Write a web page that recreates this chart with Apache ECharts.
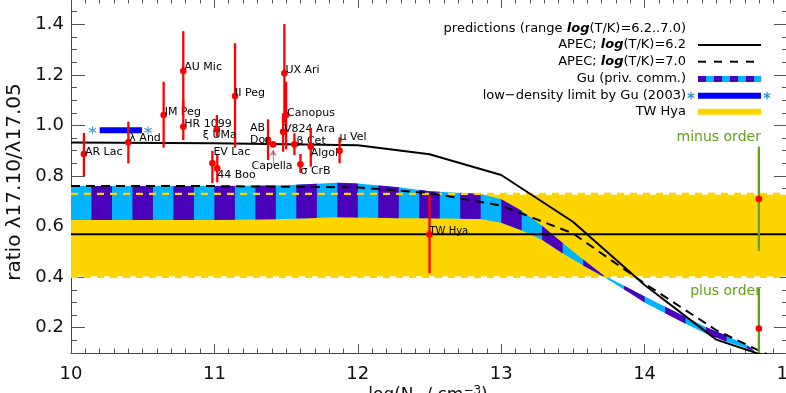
<!DOCTYPE html>
<html>
<head>
<meta charset="utf-8">
<script src="https://cdn.jsdelivr.net/npm/echarts@6.0.0/dist/echarts.min.js"></script>
<style>
  html, body { margin: 0; padding: 0; background: #fff; }
  #main { width: 786px; height: 393px; }
</style>
</head>
<body>
<div id="main"></div>
<script>
// stars: log Ne position, measured ratio and error range
const starNames = ['AR Lac', 'λ And', 'IM Peg', 'AU Mic', 'HR 1099', 'II Peg', 'UX Ari', 'Canopus', 'V824 Ara',
  'ξ UMa', 'EV Lac', '44 Boo', 'AB\nDor', 'Capella', 'β Cet', 'Algol', 'σ CrB', 'μ Vel'];
const starLogNe = [10.09, 10.40, 10.646, 10.783, 10.783, 11.144, 11.488, 11.50, 11.479,
  11.017, 10.986, 11.02, 11.374, 11.409, 11.558, 11.672, 11.60, 11.873];
const starRatio = [0.887, 0.933, 1.041, 1.215, 0.995, 1.116, 1.206, 1.041, 0.975,
  0.985, 0.850, 0.830, 0.942, 0.925, 0.925, 0.916, 0.846, 0.900];
const starLow = [0.800, 0.850, 0.912, 1.06, 0.942, 0.912, 1.01, 0.905, 0.896,
  0.955, 0.772, 0.775, 0.863, 0.918, 0.883, 0.837, 0.812, 0.850];
const starHigh = [0.970, 1.015, 1.173, 1.373, 1.10, 1.325, 1.401, 1.173, 1.048,
  1.041, 0.900, 0.883, 1.024, 0.932, 0.969, 0.990, 0.887, 0.953];

// Capella lower-limit arrow
const capellaArrow = [[11.409, 0.845], [11.409, 0.903]];

// TW Hya
const twHyaName = ['TW Hya'];
const twHyaLogNe = [12.5];
const twHyaRatio = [0.569];
const twHyaLow = [0.415];
const twHyaHigh = [0.722];
const twHyaLevel = 0.57;
const twHyaBand = [0.404, 0.726];
const twHyaEdges = [0.401, 0.729];

// minus / plus order for TW Hya
const orderNames = ['minus order', 'plus order'];
const orderLogNe = [14.797, 14.797];
const orderRatio = [0.709, 0.197];
const orderLow = [0.503, 0.09];
const orderHigh = [0.916, 0.356];

// APEC predictions
const apecLogNe = [10, 11, 12, 12.5, 13, 13.5, 14, 14.5, 15];
const apec62 = [0.932, 0.930, 0.922, 0.886, 0.804, 0.619, 0.369, 0.153, 0.058];
const apec70 = [0.760, 0.760, 0.755, 0.733, 0.683, 0.573, 0.375, 0.190, 0.055];

// Gu (priv. comm.) band
const guLogNe = [10, 11, 11.5, 11.85, 12, 12.3, 12.5, 12.854, 13.0, 13.136, 13.287, 13.427, 13.566,
  13.706, 13.90, 14.005, 14.144, 14.283, 14.423, 14.575, 14.714, 14.76];
const guLow = [0.626, 0.626, 0.630, 0.637, 0.636, 0.633, 0.633, 0.630, 0.615, 0.586, 0.547, 0.494, 0.448,
  0.405, 0.336, 0.298, 0.257, 0.217, 0.178, 0.144, 0.118, 0.108];
const guHigh = [0.760, 0.760, 0.763, 0.773, 0.770, 0.755, 0.740, 0.729, 0.708, 0.665, 0.602, 0.536, 0.472,
  0.410, 0.353, 0.322, 0.283, 0.243, 0.204, 0.167, 0.131, 0.112];

// low-density limit by Gu (2003)
const lowDensLogNe = [10.2, 10.495];
const lowDensRatio = [0.981, 0.981];
const lowDensStars = [[10.15, 0.981], [10.537, 0.981]];

const yMajorTicks = [0.2, 0.4, 0.6, 0.8, 1.0, 1.2, 1.4];

const FONT = 'DejaVu Sans';
const CYAN = '#00B4FF';
const PURPLE = '#4B00B9';
const YELLOW = '#FFD500';
const GREEN = '#66A016';
const STARBLUE = '#1E88C8';
const ASTER = 'path://M8.8,1L11.2,1L11.2,19L8.8,19Z M1.61,6.54L2.81,4.46L18.39,13.46L17.19,15.54Z M1.61,13.46L17.19,4.46L18.39,6.54L2.81,15.54Z';

// label offsets (px) relative to the data point
const labelPlace = {
  'AR Lac': [1, -2], 'λ And': [1, -4], 'IM Peg': [1, -3], 'AU Mic': [1, -4], 'HR 1099': [1, -3],
  'II Peg': [0, -3], 'UX Ari': [1, -3], 'Canopus': [1, -2], 'V824 Ara': [1, -3], 'ξ UMa': [-14, 6],
  'EV Lac': [1, -11], '44 Boo': [0, 7], 'AB\nDor': [-18, -6], 'Capella': [-1, 22, 'center'],
  'β Cet': [2, -3], 'Algol': [0, 6], 'σ CrB': [0, 7], 'μ Vel': [0, -14], 'TW Hya': [0, -3],
  'minus order': [2, -9, 'right', 'hi'], 'plus order': [2, 3, 'right', 'hi']
};

function interp(xs, ys, x) {
  for (let i = 1; i < xs.length; i++) {
    if (x <= xs[i]) {
      const t = (x - xs[i - 1]) / (xs[i] - xs[i - 1]);
      return ys[i - 1] + t * (ys[i] - ys[i - 1]);
    }
  }
  return ys[ys.length - 1];
}

// legend asterisk made of three thin bars
function asterisk(cx, cy, r) {
  const bars = [90, 30, -30].map(deg => {
    const a = deg * Math.PI / 180, w = 0.6;
    const dx = Math.cos(a) * r, dy = Math.sin(a) * r;
    const nx = -Math.sin(a) * w, ny = Math.cos(a) * w;
    return { type: 'polygon', shape: { points: [
      [cx - dx + nx, cy - dy + ny], [cx + dx + nx, cy + dy + ny],
      [cx + dx - nx, cy + dy - ny], [cx - dx - nx, cy - dy - ny]] },
      style: { fill: STARBLUE } };
  });
  return { type: 'group', children: bars };
}

function errorBars(names, xs, ys, lo, hi, barColor, font, textColor) {
  return {
    type: 'custom',
    z: 7,
    clip: true,
    data: xs.map((x, i) => [x, ys[i], lo[i], hi[i]]),
    encode: { x: 0, y: [1, 2, 3] },
    renderItem(params, api) {
      const x = api.value(0);
      const p = api.coord([x, api.value(1)]);
      const pl = api.coord([x, api.value(2)]);
      const ph = api.coord([x, api.value(3)]);
      const name = names[params.dataIndex];
      const place = labelPlace[name] || [1, -3];
      const anchor = place[3] === 'hi' ? ph : p;
      return {
        type: 'group',
        children: [
          { type: 'line', shape: { x1: p[0], y1: pl[1], x2: p[0], y2: ph[1] },
            style: { stroke: barColor, lineWidth: 2.3 } },
          { type: 'circle', shape: { cx: p[0], cy: p[1], r: 3.3 }, style: { fill: '#f00' } },
          { type: 'text', x: anchor[0] + place[0], y: anchor[1] + place[1],
            style: { text: name, font: font, fill: textColor, align: place[2] || 'left',
              verticalAlign: 'middle', lineHeight: 12 } }
        ]
      };
    }
  };
}

const chart = echarts.init(document.getElementById('main'));

const axisLineStyle = { color: '#444', width: 1 };
const tickStyle = { color: '#555', width: 1 };

function xAx(pos, labels) {
  return {
    type: 'value', min: 10, max: 15, interval: 1, position: pos,
    axisLine: { show: true, onZero: false, lineStyle: axisLineStyle },
    axisTick: { show: true, inside: true, length: 9, lineStyle: tickStyle },
    minorTick: { show: true, splitNumber: 10, length: 4.5, lineStyle: tickStyle },
    axisLabel: { show: labels, fontFamily: FONT, fontSize: 18, color: '#111', margin: 12,
      showMinLabel: true, showMaxLabel: true, hideOverlap: false },
    splitLine: { show: false }, minorSplitLine: { show: false }
  };
}
function yMinor(pos) {
  return {
    type: 'value', min: 0.1, max: 1.5, interval: 0.05, position: pos,
    axisLine: { show: true, onZero: false, lineStyle: axisLineStyle },
    axisTick: { show: true, inside: true, length: 6, lineStyle: tickStyle },
    axisLabel: { show: false }, splitLine: { show: false }
  };
}
function yMajor(pos, labels) {
  return {
    type: 'value', min: 0.1, max: 1.5, position: pos,
    axisLine: { show: false },
    axisTick: { show: true, inside: true, length: 14, lineStyle: tickStyle, customValues: yMajorTicks },
    axisLabel: { show: labels, customValues: yMajorTicks, formatter: v => v.toFixed(1),
      fontFamily: FONT, fontSize: 18, color: '#111', margin: 7 },
    splitLine: { show: false }
  };
}

const boldLog = { b: { fontFamily: FONT, fontSize: 13, fontWeight: 'bold', fontStyle: 'italic' } };
function legendText(y, text) {
  return { type: 'text', x: 686, y: y, style: { text: text, font: '13px ' + FONT, fill: '#000',
    align: 'right', verticalAlign: 'middle', rich: boldLog } };
}

chart.setOption({
  animation: false,
  backgroundColor: '#fff',
  grid: { left: 71, right: -2, top: -1, bottom: 40, outerBoundsMode: 'none', containLabel: false },
  xAxis: [xAx('bottom', true), xAx('top', false)],
  yAxis: [yMinor('left'), yMajor('left', true), yMinor('right'), yMajor('right', false)],
  series: [
    {
      // TW Hya band
      type: 'custom', z: 1, clip: true,
      data: [[10, twHyaBand[0], 15, twHyaBand[1]]],
      encode: { x: [0, 2], y: [1, 3] },
      renderItem(params, api) {
        const a = api.coord([api.value(0), api.value(3)]);
        const b = api.coord([api.value(2), api.value(1)]);
        return { type: 'rect', shape: { x: a[0], y: a[1], width: b[0] - a[0], height: b[1] - a[1] },
          style: { fill: YELLOW } };
      }
    },
    {
      // Gu striped band
      type: 'custom', z: 2, clip: true,
      data: [[guLogNe[0], guLow[0]]],
      encode: { x: 0, y: 1 },
      renderItem(params, api) {
        const x0 = guLogNe[0], x1 = guLogNe[guLogNe.length - 1];
        const poly = (a, b) => {
          const up = [api.coord([a, interp(guLogNe, guHigh, a)])];
          const dn = [api.coord([a, interp(guLogNe, guLow, a)])];
          guLogNe.forEach((x, i) => {
            if (x > a && x < b) { up.push(api.coord([x, guHigh[i]])); dn.push(api.coord([x, guLow[i]])); }
          });
          up.push(api.coord([b, interp(guLogNe, guHigh, b)]));
          dn.push(api.coord([b, interp(guLogNe, guLow, b)]));
          return up.concat(dn.reverse());
        };
        const children = [{ type: 'polygon', shape: { points: poly(x0, x1) }, style: { fill: CYAN } }];
        for (let k = 1; x0 + k / 7 < x1; k += 2) {
          const a = x0 + k / 7, b = Math.min(x0 + (k + 1) / 7, x1);
          children.push({ type: 'polygon', shape: { points: poly(a, b) }, style: { fill: PURPLE } });
        }
        return { type: 'group', children };
      }
    },
    {
      type: 'line', z: 3, symbol: 'none', silent: true,
      data: [[10, twHyaEdges[1]], [15, twHyaEdges[1]]],
      lineStyle: { color: YELLOW, width: 2.2, type: [7, 6] }
    },
    {
      type: 'line', z: 3, symbol: 'none', silent: true,
      data: [[10, twHyaEdges[0]], [15, twHyaEdges[0]]],
      lineStyle: { color: YELLOW, width: 2.2, type: [7, 6] }
    },
    {
      type: 'line', z: 4, symbol: 'none', silent: true,
      data: [[10, twHyaLevel], [15, twHyaLevel]],
      lineStyle: { color: '#000', width: 2 }
    },
    {
      name: 'APEC 6.2', type: 'line', z: 5, symbol: 'none', clip: true,
      data: apecLogNe.map((x, i) => [x, apec62[i]]),
      lineStyle: { color: '#000', width: 2 }
    },
    {
      name: 'APEC 7.0', type: 'line', z: 5, symbol: 'none', clip: true,
      data: apecLogNe.map((x, i) => [x, apec70[i]]),
      lineStyle: { color: '#000', width: 2, type: [9, 6] }
    },
    {
      name: 'low-density limit', type: 'line', z: 6, symbol: 'none',
      data: lowDensLogNe.map((x, i) => [x, lowDensRatio[i]]),
      lineStyle: { color: '#0000FF', width: 6, cap: 'butt' }
    },
    {
      type: 'scatter', z: 6, symbol: ASTER, symbolSize: 8,
      itemStyle: { color: STARBLUE },
      data: lowDensStars
    },
    errorBars(starNames, starLogNe, starRatio, starLow, starHigh, '#f00', '11px ' + FONT, '#000'),
    errorBars(twHyaName, twHyaLogNe, twHyaRatio, twHyaLow, twHyaHigh, '#f00', '10px ' + FONT, '#000'),
    errorBars(orderNames, orderLogNe, orderRatio, orderLow, orderHigh, GREEN, '14px ' + FONT, GREEN),
    {
      type: 'lines', coordinateSystem: 'cartesian2d', z: 7,
      symbol: ['none', 'arrow'], symbolSize: 6,
      lineStyle: { color: '#8B1A1A', width: 1.2 },
      data: [{ coords: capellaArrow }]
    }
  ],
  graphic: [
    { type: 'text', x: 15, y: 182, rotation: Math.PI / 2,
      style: { text: 'ratio λ17.10/λ17.05', font: '20px ' + FONT, fill: '#111', align: 'center', verticalAlign: 'middle' } },
    { type: 'text', x: 428, y: 385,
      style: { text: 'log(N{s|e} / cm{p|−3})', font: '17px ' + FONT, fill: '#111', align: 'center', verticalAlign: 'top',
        rich: { s: { fontSize: 12, fontFamily: FONT, padding: [10, 0, 0, 0] }, p: { fontSize: 12, fontFamily: FONT, verticalAlign: 'top' } } } },
    // legend
    legendText(29, 'predictions (range {b|log}(T/K)=6.2..7.0)'),
    legendText(45, 'APEC; {b|log}(T/K)=6.2'),
    legendText(61.7, 'APEC; {b|log}(T/K)=7.0'),
    legendText(79, 'Gu (priv. comm.)'),
    legendText(95.7, 'low−density limit by Gu (2003)'),
    legendText(111.7, 'TW Hya'),
    { type: 'line', shape: { x1: 698, y1: 45, x2: 761, y2: 45 }, style: { stroke: '#000', lineWidth: 2 } },
    { type: 'line', shape: { x1: 698, y1: 61.7, x2: 761, y2: 61.7 }, style: { stroke: '#000', lineWidth: 2, lineDash: [8, 8] } },
    { type: 'rect', shape: { x: 698, y: 76, width: 63, height: 6 }, style: { fill: CYAN } },
    { type: 'rect', shape: { x: 698, y: 76, width: 8, height: 6 }, style: { fill: PURPLE } },
    { type: 'rect', shape: { x: 714, y: 76, width: 8, height: 6 }, style: { fill: PURPLE } },
    { type: 'rect', shape: { x: 730, y: 76, width: 8, height: 6 }, style: { fill: PURPLE } },
    { type: 'rect', shape: { x: 746, y: 76, width: 8, height: 6 }, style: { fill: PURPLE } },
    { type: 'rect', shape: { x: 698, y: 92.7, width: 63, height: 6 }, style: { fill: '#0000FF' } },
    asterisk(691, 95.7, 3.8),
    asterisk(767, 95.7, 3.8),
    { type: 'rect', shape: { x: 698, y: 108.7, width: 63, height: 6 }, style: { fill: YELLOW } }
  ]
});
</script>
</body>
</html>
